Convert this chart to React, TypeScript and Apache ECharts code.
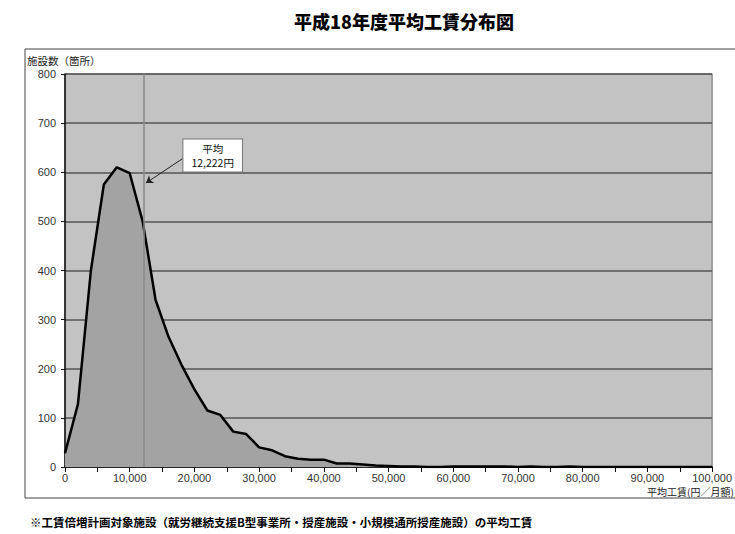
import React, { useEffect, useRef } from "react";
import * as echarts from "echarts";

const chartTitle = "平成18年度平均工賃分布図";
const yAxisName = "施設数（箇所）";
const xAxisName = "平均工賃(円／月額)";
const footnote = "※工賃倍増計画対象施設（就労継続支援B型事業所・授産施設・小規模通所授産施設）の平均工賃";

const meanWage = 12222;

// wage bins (yen / month)
const wages = [
  0, 2000, 4000, 6000, 8000, 10000, 12000, 14000, 16000, 18000,
  20000, 22000, 24000, 26000, 28000, 30000, 32000, 34000, 36000, 38000,
  40000, 42000, 44000, 46000, 48000, 50000, 52000, 54000, 56000, 58000,
  60000, 62000, 64000, 66000, 68000, 70000, 72000, 74000, 76000, 78000,
  80000, 82000, 84000, 86000, 88000, 90000, 92000, 94000, 96000, 98000,
  100000,
];

// number of facilities
const counts = [
  28, 128, 400, 575, 610, 598, 500, 340, 265, 208,
  158, 115, 106, 72, 67, 40, 34, 22, 17, 15,
  15, 7, 7, 5, 3, 2, 1, 1, 0, 0,
  1, 1, 1, 1, 1, 0, 1, 0, 0, 1,
  0, 0, 0, 0, 0, 0, 0, 0, 0, 0,
  0,
];

const yTicks = [0, 100, 200, 300, 400, 500, 600, 700, 800];

export default function App() {
  const ref = useRef<HTMLDivElement>(null);

  useEffect(() => {
    if (!ref.current) return;
    const chart = echarts.init(ref.current, undefined, { renderer: "svg" });
    const numFont = '"Liberation Sans", Arial, sans-serif';
    const jpFont = '"Noto Sans CJK JP", sans-serif';
    chart.setOption({
      animation: false,
      backgroundColor: "#ffffff",
      grid: {
        left: 65,
        right: 20,
        top: 74,
        bottom: 67,
        show: true,
        backgroundColor: "#c3c3c3",
        borderColor: "#6a6a6a",
        borderWidth: 1,
      },
      xAxis: {
        type: "value",
        min: 0,
        max: 100000,
        interval: 10000,
        axisLine: { show: true, onZero: false, lineStyle: { color: "#111", width: 1.5 } },
        axisTick: { show: true, inside: false, length: 5, lineStyle: { color: "#111" } },
        minorTick: { show: true, splitNumber: 2, length: 5, lineStyle: { color: "#111" } },
        splitLine: { show: false },
        axisLabel: {
          color: "#333",
          fontSize: 11,
          fontFamily: numFont,
          margin: 5,
          formatter: (v: number) => v.toLocaleString("en-US"),
        },
      },
      yAxis: {
        type: "value",
        min: yTicks[0],
        max: yTicks[yTicks.length - 1],
        interval: 100,
        axisLine: { show: true, lineStyle: { color: "#111", width: 1.5 } },
        axisTick: { show: true, inside: false, length: 4, lineStyle: { color: "#111" } },
        splitLine: { show: true, lineStyle: { color: "#555", width: 1.5 } },
        axisLabel: { color: "#333", fontSize: 11, fontFamily: numFont, margin: 9 },
      },
      series: [
        {
          type: "line",
          data: wages.map((w, i) => [w, counts[i]]),
          symbol: "none",
          lineStyle: { color: "#000", width: 2.5 },
          areaStyle: { color: "#a3a3a3", opacity: 1 },
          z: 2,
          markLine: {
            silent: true,
            symbol: ["none", "none"],
            symbolSize: 7,
            label: { show: false },
            data: [
              {
                xAxis: meanWage,
                lineStyle: { color: "#8a8a8a", width: 1.5, type: "solid" },
              },
              [
                { coord: [18200, 628], symbol: "none" },
                {
                  coord: [12500, 578],
                  symbol: "arrow",
                  symbolSize: 7,
                  lineStyle: { color: "#222", width: 1, type: "solid" },
                },
              ],
            ],
            lineStyle: { color: "#222", width: 1, type: "solid" },
          },
          markPoint: {
            silent: true,
            data: [
              {
                coord: [22820, 634],
                symbol: "rect",
                symbolSize: 0,
                label: {
                  show: true,
                  position: "inside",
                  color: "#111",
                  fontSize: 10.5,
                  lineHeight: 14,
                  fontFamily: jpFont,
                  align: "center",
                  backgroundColor: "#ffffff",
                  borderColor: "#777",
                  borderWidth: 1,
                  padding: [2, 8, 2, 8],
                  formatter: `平均\n${meanWage.toLocaleString("en-US")}円`,
                },
              },
            ],
          },
        },
      ],
      graphic: [
        {
          type: "rect",
          silent: true,
          z: -10,
          shape: { x: 25, y: 49, width: 730, height: 449 },
          style: { fill: "none", stroke: "#444", lineWidth: 1 },
        },
        {
          type: "text",
          x: 404,
          y: 21,
          style: {
            text: chartTitle,
            font: `900 18px ${jpFont}`,
            fill: "#000",
            textAlign: "center",
            textVerticalAlign: "middle",
          },
        },
        {
          type: "text",
          x: 27,
          y: 60,
          style: {
            text: yAxisName,
            font: `10.5px ${jpFont}`,
            fill: "#222",
            textAlign: "left",
            textVerticalAlign: "middle",
          },
        },
        {
          type: "text",
          x: 647,
          y: 491,
          style: {
            text: xAxisName,
            font: `10px ${jpFont}`,
            fill: "#222",
            textAlign: "left",
            textVerticalAlign: "middle",
          },
        },
        {
          type: "text",
          x: 30,
          y: 522,
          style: {
            text: footnote,
            font: `bold 11.5px ${jpFont}`,
            fill: "#000",
            textAlign: "left",
            textVerticalAlign: "middle",
          },
        },
      ],
    });
    return () => chart.dispose();
  }, []);

  return (
    <div
      ref={ref}
      style={{ position: "fixed", left: 0, top: 0, width: 735, height: 534 }}
    />
  );
}
